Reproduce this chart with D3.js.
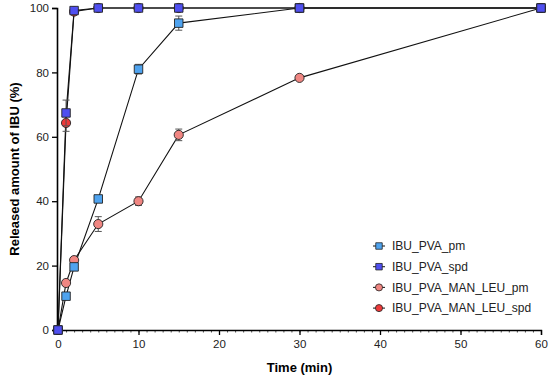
<!DOCTYPE html>
<html>
<head>
<meta charset="utf-8">
<script src="https://cdn.jsdelivr.net/npm/d3@7"></script>
<style>
  body { margin: 0; background: #fff; }
  text { font-family: "Liberation Sans", Arial, sans-serif; }
</style>
</head>
<body>
<div id="chart"></div>
<script>
var width = 550, height = 376;

// sampling times (min)
var times = [0, 1, 2, 5, 10, 15, 30, 60];

var pvaPm      = [0, 10.5, 19.6, 40.7, 81.0, 95.3, 100, 100];
var pvaPmErr   = [0, 0.8, 1.0, 0.8, 1.5, 2.2, 0.3, 0];
var pvaSpd     = [0, 67.4, 99.2, 100, 100, 100, 100, 100];
var pvaSpdErr  = [0, 4.0, 0.6, 0, 0, 0, 0, 0];
var leuPm      = [0, 14.6, 21.7, 32.9, 40.0, 60.6, 78.3, 100];
var leuPmErr   = [0, 0.8, 0.8, 2.3, 1.3, 1.8, 0.5, 0];
var leuSpd     = [0, 64.3, 98.9, 100, 100, 100, 100, 100];
var leuSpdErr  = [0, 2.6, 0.5, 0, 0, 0, 0, 0];

var xTicks = [0, 10, 20, 30, 40, 50, 60];
var yTicks = [0, 20, 40, 60, 80, 100];

var series = [
  {name: "IBU_PVA_pm", values: pvaPm, err: pvaPmErr, color: "#4fa3ef", shape: "square"},
  {name: "IBU_PVA_spd", values: pvaSpd, err: pvaSpdErr, color: "#4f4ff0", shape: "square"},
  {name: "IBU_PVA_MAN_LEU_pm", values: leuPm, err: leuPmErr, color: "#f08682", shape: "circle"},
  {name: "IBU_PVA_MAN_LEU_spd", values: leuSpd, err: leuSpdErr, color: "#ee3a3a", shape: "circle"}
];

// draw circles first so the squares sit on top
var drawOrder = [series[2], series[3], series[0], series[1]];

var margin = {top: 8, right: 9, bottom: 46, left: 58};

var svg = d3.select("#chart").append("svg")
  .attr("width", width)
  .attr("height", height);

var x = d3.scaleLinear()
  .domain([0, 60])
  .range([margin.left, width - margin.right]);

var y = d3.scaleLinear()
  .domain([0, 100])
  .range([height - margin.bottom, margin.top]);

// minor ticks along x
var xMinor = svg.append("g")
  .attr("transform", `translate(0, ${y(0)})`)
  .call(d3.axisBottom(x).ticks(60).tickSize(2.5).tickFormat(""));
xMinor.select(".domain").remove();
xMinor.selectAll("line").attr("stroke", "#222").attr("stroke-width", 0.8);

var xAxis = svg.append("g")
  .attr("transform", `translate(0, ${y(0)})`)
  .call(d3.axisBottom(x).tickValues(xTicks).tickSize(5).tickPadding(5));
xAxis.select(".domain").attr("stroke", "#000").attr("stroke-width", 1.3);
xAxis.selectAll(".tick line").attr("stroke", "#000").attr("stroke-width", 1.3);
xAxis.selectAll("text").attr("font-size", 11.5).attr("fill", "#222")
  .style("font-family", "'Liberation Sans', Arial, sans-serif");

var yAxis = svg.append("g")
  .attr("transform", `translate(${x(0) - 1}, 0)`)
  .call(d3.axisLeft(y).tickValues(yTicks).tickSize(5).tickPadding(3));
yAxis.select(".domain").attr("stroke", "#000").attr("stroke-width", 1.6);
yAxis.selectAll(".tick line").attr("stroke", "#000").attr("stroke-width", 1.3);
yAxis.selectAll("text").attr("font-size", 11.5).attr("fill", "#222")
  .style("font-family", "'Liberation Sans', Arial, sans-serif");

svg.append("text")
  .attr("transform", `translate(18.5, ${(y(0) + y(100)) / 2}) rotate(-90)`)
  .attr("text-anchor", "middle")
  .attr("font-size", 13)
  .attr("font-weight", "bold")
  .text("Released amount of IBU (%)");

svg.append("text")
  .attr("x", (x(0) + x(60)) / 2)
  .attr("y", 372)
  .attr("text-anchor", "middle")
  .attr("font-size", 13)
  .attr("font-weight", "bold")
  .text("Time (min)");

var line = d3.line()
  .x(d => x(d.t))
  .y(d => y(d.v));

var sym = {
  square: d3.symbol().type(d3.symbolSquare).size(72),
  circle: d3.symbol().type(d3.symbolCircle).size(66)
};

function rows(s) {
  return times.map((t, i) => ({t: t, v: s.values[i], e: s.err[i]}));
}

drawOrder.forEach(s => {
  svg.append("path")
    .datum(rows(s))
    .attr("fill", "none")
    .attr("stroke", "#111")
    .attr("stroke-width", 1.1)
    .attr("d", line);
});

drawOrder.forEach(s => {
  var g = svg.append("g");
  var withErr = rows(s).filter(d => d.e > 0);

  g.selectAll("line.err")
    .data(withErr)
    .enter().append("line")
    .attr("x1", d => x(d.t)).attr("x2", d => x(d.t))
    .attr("y1", d => y(d.v - d.e)).attr("y2", d => y(d.v + d.e))
    .attr("stroke", "#555").attr("stroke-width", 1);

  g.selectAll("line.capTop")
    .data(withErr)
    .enter().append("line")
    .attr("x1", d => x(d.t) - 3.5).attr("x2", d => x(d.t) + 3.5)
    .attr("y1", d => y(d.v + d.e)).attr("y2", d => y(d.v + d.e))
    .attr("stroke", "#555").attr("stroke-width", 1);

  g.selectAll("line.capBot")
    .data(withErr)
    .enter().append("line")
    .attr("x1", d => x(d.t) - 3.5).attr("x2", d => x(d.t) + 3.5)
    .attr("y1", d => y(d.v - d.e)).attr("y2", d => y(d.v - d.e))
    .attr("stroke", "#555").attr("stroke-width", 1);

  g.selectAll("path.mark")
    .data(rows(s))
    .enter().append("path")
    .attr("transform", d => `translate(${x(d.t)}, ${y(d.v)})`)
    .attr("d", sym[s.shape])
    .attr("fill", s.color)
    .attr("stroke", "#222")
    .attr("stroke-width", 0.9);
});

// legend
var legend = svg.append("g").attr("transform", "translate(379, 246)");
series.forEach((s, i) => {
  var row = legend.append("g").attr("transform", `translate(0, ${i * 20.7})`);
  row.append("line")
    .attr("x1", -6).attr("x2", 6)
    .attr("stroke", "#222").attr("stroke-width", 1.1);
  row.append("path")
    .attr("d", d3.symbol().type(s.shape == "square" ? d3.symbolSquare : d3.symbolCircle)
      .size(s.shape == "square" ? 42 : 40))
    .attr("fill", s.color)
    .attr("stroke", "#222")
    .attr("stroke-width", 0.8);
  row.append("text")
    .attr("x", 13)
    .attr("y", 4.2)
    .attr("font-size", 12)
    .attr("fill", "#222")
    .text(s.name);
});
</script>
</body>
</html>
